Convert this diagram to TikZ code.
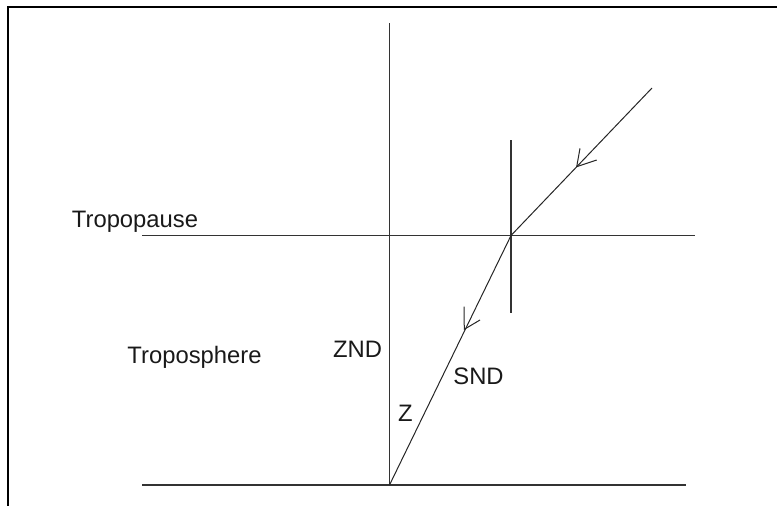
\documentclass[tikz,border=0pt]{standalone}
\usepackage{fontspec}
\setmainfont{Liberation Sans}
\begin{document}
\begin{tikzpicture}[x=1pt,y=-1pt,
  ln/.style={line width=1.4pt,draw=black!80},
  ray/.style={line width=1pt,draw=black!85},
  frame/.style={line width=2pt,draw=black},
  lbl/.style={inner sep=0pt,anchor=base,font=\fontsize{23.8}{26}\selectfont,text=black!90}]
\useasboundingbox (0,0) rectangle (777,506);
% frame
\draw[frame] (7.5,506) -- (7.5,7) -- (777,7);
% coordinates
\coordinate (vt) at (389.5,23);
\coordinate (O) at (389.5,485);
\coordinate (tpL) at (142,235.5);
\coordinate (tpR) at (695,235.5);
\coordinate (gL) at (142,485);
\coordinate (gR) at (686,485);
\coordinate (nT) at (511,140);
\coordinate (nB) at (511,313);
\coordinate (S) at (652,88);
\coordinate (R) at (511,235.5);
\coordinate (a1) at (576.7,166.7);
\coordinate (a1u) at (580,148.3);
\coordinate (a1r) at (596.7,160);
\coordinate (a2) at (464.3,329.3);
\coordinate (a2u) at (464,306.7);
\coordinate (a2r) at (480,320);
% lines
\draw[ln] (vt) -- (O);
\draw[ln] (tpL) -- (tpR);
\draw[ln] (gL) -- (gR);
\draw[ln] (nT) -- (nB);
% ray
\draw[ray] (S) -- (R) -- (O);
\draw[ray] (a1u) -- (a1) -- (a1r);
\draw[ray] (a2u) -- (a2) -- (a2r);
% labels
\node[lbl] (tp) at (135,227) {Tropopause};
\node[lbl] (ts) at (194.5,363) {Troposphere};
\node[lbl] (znd) at (357.5,357) {ZND};
\node[lbl] (snd) at (478.5,384) {SND};
\node[lbl] (z) at (405.5,421.5) {Z};
\end{tikzpicture}
\end{document}
